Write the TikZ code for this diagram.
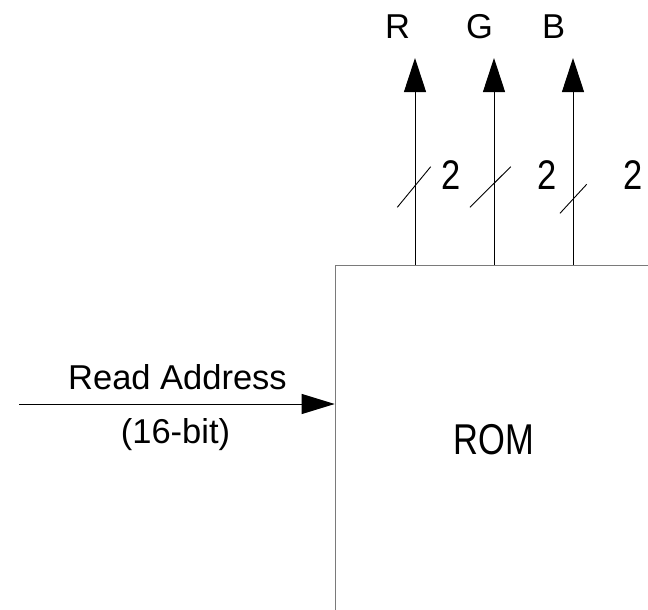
\documentclass[tikz,border=0pt]{standalone}
\usepackage{fontspec}
\setmainfont{Liberation Sans}
\usetikzlibrary{arrows.meta}
\begin{document}
\begin{tikzpicture}[x=1pt,y=-1pt,
  txt/.style={inner sep=0pt,anchor=base,font=\fontsize{34.5}{40}\selectfont},
  bus/.style={line width=1pt,-{Triangle[length=34pt,width=22pt]}},
  slash/.style={line width=0.9pt},
  block/.style={draw=black!52,line width=1.6pt,minimum width=317pt,minimum height=348pt,inner sep=0pt,
    font=\fontsize{34.5}{40}\selectfont}]
\useasboundingbox (0,0) rectangle (648,610);
\clip (0,0) rectangle (648,610);

% memory block (extends past the frame on the right and bottom)
\node[block] (rom) at (494,439.5) {\scalebox{1}[1.25]{ROM}};

% colour outputs
\node[txt] (R) at (397.5,39) {R};
\node[txt] (G) at (479.5,39) {G};
\node[txt] (B) at (553.5,39) {B};
\coordinate (tipR) at (415,58);
\coordinate (tipG) at (494,58);
\coordinate (tipB) at (573,58);
\draw[bus] (rom.north -| tipR) -- (tipR);
\draw[bus] (rom.north -| tipG) -- (tipG);
\draw[bus] (rom.north -| tipB) -- (tipB);

% bus-width marks
\draw[slash] (397.3,207.3) -- (430.7,166.7);
\draw[slash] (470,207.3) -- (510.7,166.7);
\draw[slash] (560,213.3) -- (586.7,184.3);
\node[txt] (w1) at (450.8,189.5) {\scalebox{1}[1.2]{2}};
\node[txt] (w2) at (547,189.5) {\scalebox{1}[1.2]{2}};
\node[txt] (w3) at (633,189.5) {\scalebox{1}[1.2]{2}};

% address input
\coordinate (addr) at (19,404);
\draw[line width=1pt,-{Triangle[length=33pt,width=20pt]}] (addr) -- (rom.west |- addr);
\node[txt] (lab1) at (177.5,389) {Read Address};
\node[txt] (lab2) at (175.5,443) {(16-bit)};
\end{tikzpicture}
\end{document}
